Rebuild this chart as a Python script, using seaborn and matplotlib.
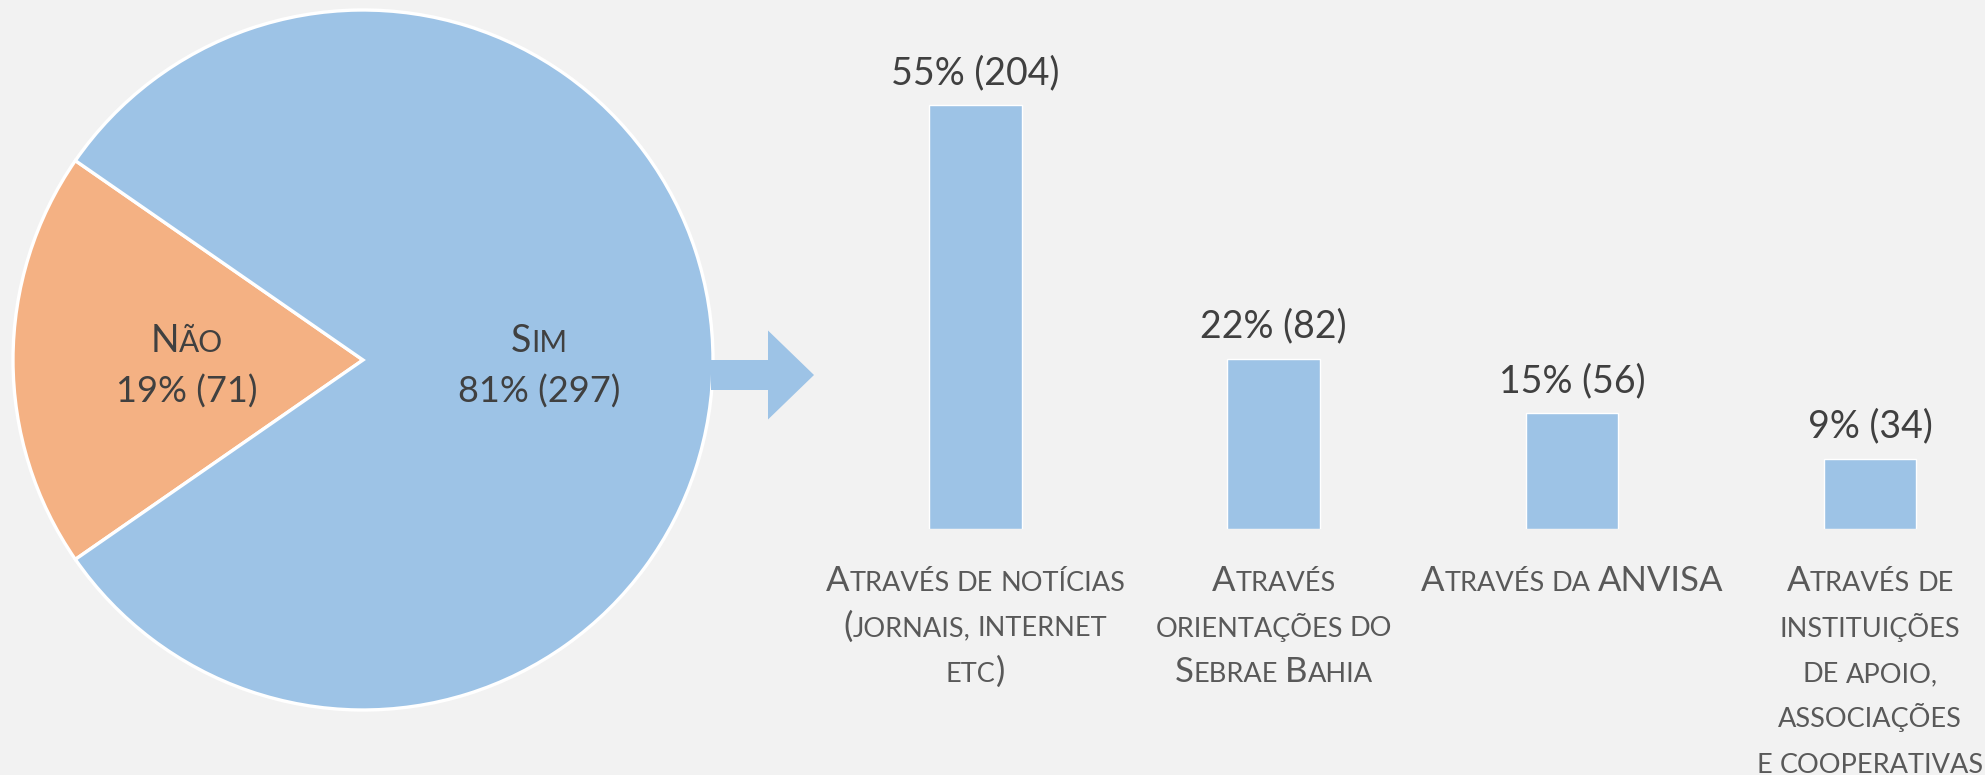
import matplotlib
matplotlib.use("Agg")
import matplotlib.pyplot as plt
import pandas as pd
import seaborn as sns
from matplotlib.patches import FancyArrow
from matplotlib.transforms import IdentityTransform

# --- data -------------------------------------------------------------
pie_labels = ["Não", "Sim"]
pie_counts = [71, 297]
pie_pcts = [19, 81]

bar_labels = [
    ["Através de notícias", "(jornais, internet", "etc)"],
    ["Através", "orientações do", "Sebrae Bahia"],
    ["Através da ANVISA"],
    ["Através de", "instituições", "de apoio,", "associações", "e cooperativas"],
]
bar_counts = [204, 82, 56, 34]
bar_pcts = [55, 22, 15, 9]

# --- style ------------------------------------------------------------
W, H, DPI = 1985, 775, 100
BG = "#F2F2F2"
BLUE = "#9DC3E6"
ORANGE = "#F4B183"
DARK = "#404040"
GREY = "#595959"
FONT = ["Lato", "DejaVu Sans"]
BIG, SMALL = 25, 19.5
VALUE_SIZE = 27

sns.set_theme(style="white", rc={"figure.facecolor": BG, "axes.facecolor": BG,
                                 "savefig.facecolor": BG})
plt.rcParams["font.family"] = FONT

fig = plt.figure(figsize=(W / DPI, H / DPI), dpi=DPI)
renderer = fig.canvas.get_renderer()


def _advance(s, size):
    t = fig.text(0, 0, "X" + s + "X", fontsize=size, transform=IdentityTransform())
    w1 = t.get_window_extent(renderer).width
    t.set_text("XX")
    w2 = t.get_window_extent(renderer).width
    t.remove()
    return w1 - w2


def smallcaps(x_px, y_top, text, big, small, color):
    """Centered small-caps line, baseline at y_top pixels from the top."""
    groups = []
    for ch in text:
        if ch == " ":
            kind = "sp"
        elif ch.islower() or ch == ",":
            kind = "sm"
        else:
            kind = "bg"
        if groups and groups[-1][0] == kind:
            groups[-1][1] += ch
        else:
            groups.append([kind, ch])
    parts = []
    for kind, s in groups:
        size = big if kind == "bg" else small
        s = s.upper()
        parts.append((kind, s, size, _advance(s, size)))
    x = x_px - sum(p[3] for p in parts) / 2
    for kind, s, size, adv in parts:
        if kind != "sp":
            fig.text(x, H - y_top, s, fontsize=size, color=color, ha="left",
                     va="baseline", transform=IdentityTransform())
        x += adv


# --- pie --------------------------------------------------------------
cx, cy, r = 363, 360, 350
pad = 1.01
ax_pie = fig.add_axes([(cx - r * pad) / W, (H - cy - r * pad) / H,
                       2 * r * pad / W, 2 * r * pad / H])
start = 180 - 0.5 * 360 * pie_counts[0] / sum(pie_counts)
wedges, _ = ax_pie.pie(pie_counts, colors=[ORANGE, BLUE], startangle=start,
                       wedgeprops=dict(edgecolor="white", linewidth=2.4))
ax_pie.set(xlim=(-pad, pad), ylim=(-pad, pad))

for xd, lab, n, p in zip([-0.503, 0.503], pie_labels, pie_counts, pie_pcts):
    px = ax_pie.transData.transform((xd, 0))[0]
    smallcaps(px, 352, lab, BIG + 2, SMALL + 2, DARK)
    fig.text(px, H - 392, f"{p}% ({n})", fontsize=VALUE_SIZE - 1, color=DARK,
             ha="center", va="center", transform=IdentityTransform())

# --- arrow ------------------------------------------------------------
arrow = FancyArrow(711, H - 375, 103, 0, width=30, head_width=89, head_length=46,
                   length_includes_head=True, color=BLUE, linewidth=0,
                   transform=IdentityTransform())
fig.add_artist(arrow)

# --- bars -------------------------------------------------------------
step = 298.2
bar_left = 975.5 - 0.5 * step
bar_bottom = H - 529.2
xmax = 3.35
ymax = 220
ax_bar = fig.add_axes([bar_left / W, bar_bottom / H,
                       (xmax + 0.5) * step / W, ymax * 2.079 / H])
df = pd.DataFrame({"cat": [" ".join(l) for l in bar_labels], "n": bar_counts})
sns.barplot(data=df, x="cat", y="n", color=BLUE, saturation=1, width=0.31, ax=ax_bar)
ax_bar.set(xlim=(-0.5, xmax), ylim=(0, ymax))
ax_bar.axis("off")

for i, (n, p) in enumerate(zip(bar_counts, bar_pcts)):
    ax_bar.annotate(f"{p}% ({n})", xy=(i, n), xytext=(0, 23), textcoords="offset points",
                    ha="center", va="center", fontsize=VALUE_SIZE, color=DARK)

for i, lines in enumerate(bar_labels):
    px = ax_bar.transData.transform((i, 0))[0]
    for j, line in enumerate(lines):
        smallcaps(px, 591 + j * 45.5, line, BIG, SMALL, GREY)

fig.savefig("out.png", dpi=DPI)
